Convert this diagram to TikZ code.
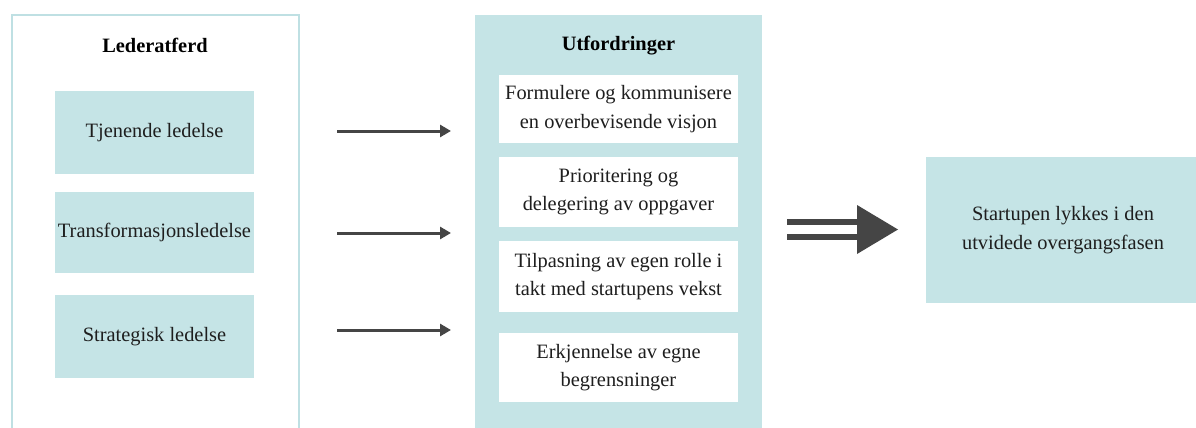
\documentclass[tikz,border=0pt]{standalone}
\usepackage{fontspec}
\setmainfont{Liberation Serif}
\usetikzlibrary{arrows.meta}
\definecolor{teal}{HTML}{C5E4E6}
\definecolor{tealline}{HTML}{BFE0E3}
\definecolor{arrowgray}{HTML}{454545}
\definecolor{txt}{HTML}{1E1E1E}
\tikzset{
  container/.style={draw=tealline, line width=1.1pt, fill=white, inner sep=0pt},
  tealfill/.style={fill=teal, draw=none, inner sep=0pt, text=txt, align=center, font=\fontsize{10.2}{14.2}\selectfont},
  whitebox/.style={fill=white, draw=none, inner sep=0pt, text=txt, align=center, font=\fontsize{10.2}{14.2}\selectfont},
  title/.style={inner sep=0pt, text=black, font=\fontsize{10.2}{12}\selectfont\bfseries},
  thinarrow/.style={draw=arrowgray, line width=1.5pt, -{Triangle[length=5.5pt,width=6pt]}},
  bigline/.style={draw=arrowgray, line width=2.8pt},
}
\begin{document}
\begin{tikzpicture}[x=0.5pt,y=-0.5pt]
\useasboundingbox (0,0) rectangle (1196,428);
\fill[white] (0,0) rectangle (1196,428);
% left container
\node[container, minimum width=143.5pt, minimum height=208.5pt] (left) at (155.5,223.5) {};
\node[title] (lefttitle) at (155,45) {Lederatferd};
\node[tealfill, minimum width=99.5pt, minimum height=41.5pt] (l1) at (154.5,132.5) {Tjenende ledelse};
\node[tealfill, minimum width=99.5pt, minimum height=40.5pt] (l2) at (154.5,232.5) {Transformasjonsledelse};
\node[tealfill, minimum width=99.5pt, minimum height=41.5pt] (l3) at (154.5,336.5) {Strategisk ledelse};
% middle container
\node[tealfill, minimum width=143.5pt, minimum height=208.5pt] (mid) at (618.5,223.5) {};
\node[title] (midtitle) at (618.5,46) {Utfordringer};
\node[whitebox, minimum width=119.5pt, minimum height=34pt] (m1) at (618.5,109) {Formulere og kommunisere\\en overbevisende visjon};
\node[whitebox, minimum width=119.5pt, minimum height=35pt] (m2) at (618.5,192) {Prioritering og\\delegering av oppgaver};
\node[whitebox, minimum width=119.5pt, minimum height=35.5pt] (m3) at (618.5,276.5) {Tilpasning av egen rolle i\\takt med startupens vekst};
\node[whitebox, minimum width=119.5pt, minimum height=34.5pt] (m4) at (618.5,367.5) {Erkjennelse av egne\\begrensninger};
% right box
\node[tealfill, minimum width=137pt, minimum height=73pt] (res) at (1063,230) {Startupen lykkes i den\\utvidede overgangsfasen};
% thin arrows
\coordinate (a1s) at (337,131); \coordinate (a1e) at (451,131);
\coordinate (a2s) at (337,233); \coordinate (a2e) at (451,233);
\coordinate (a3s) at (337,330); \coordinate (a3e) at (451,330);
\draw[thinarrow] (a1s) -- (a1e);
\draw[thinarrow] (a2s) -- (a2e);
\draw[thinarrow] (a3s) -- (a3e);
% big double arrow
\coordinate (b1s) at (787,222); \coordinate (b1e) at (860,222);
\coordinate (b2s) at (787,237); \coordinate (b2e) at (860,237);
\coordinate (bh1) at (857,205); \coordinate (bt) at (898,229.5); \coordinate (bh2) at (857,254);
\draw[bigline] (b1s) -- (b1e);
\draw[bigline] (b2s) -- (b2e);
\fill[arrowgray] (bh1) -- (bt) -- (bh2) -- cycle;
\end{tikzpicture}
\end{document}
